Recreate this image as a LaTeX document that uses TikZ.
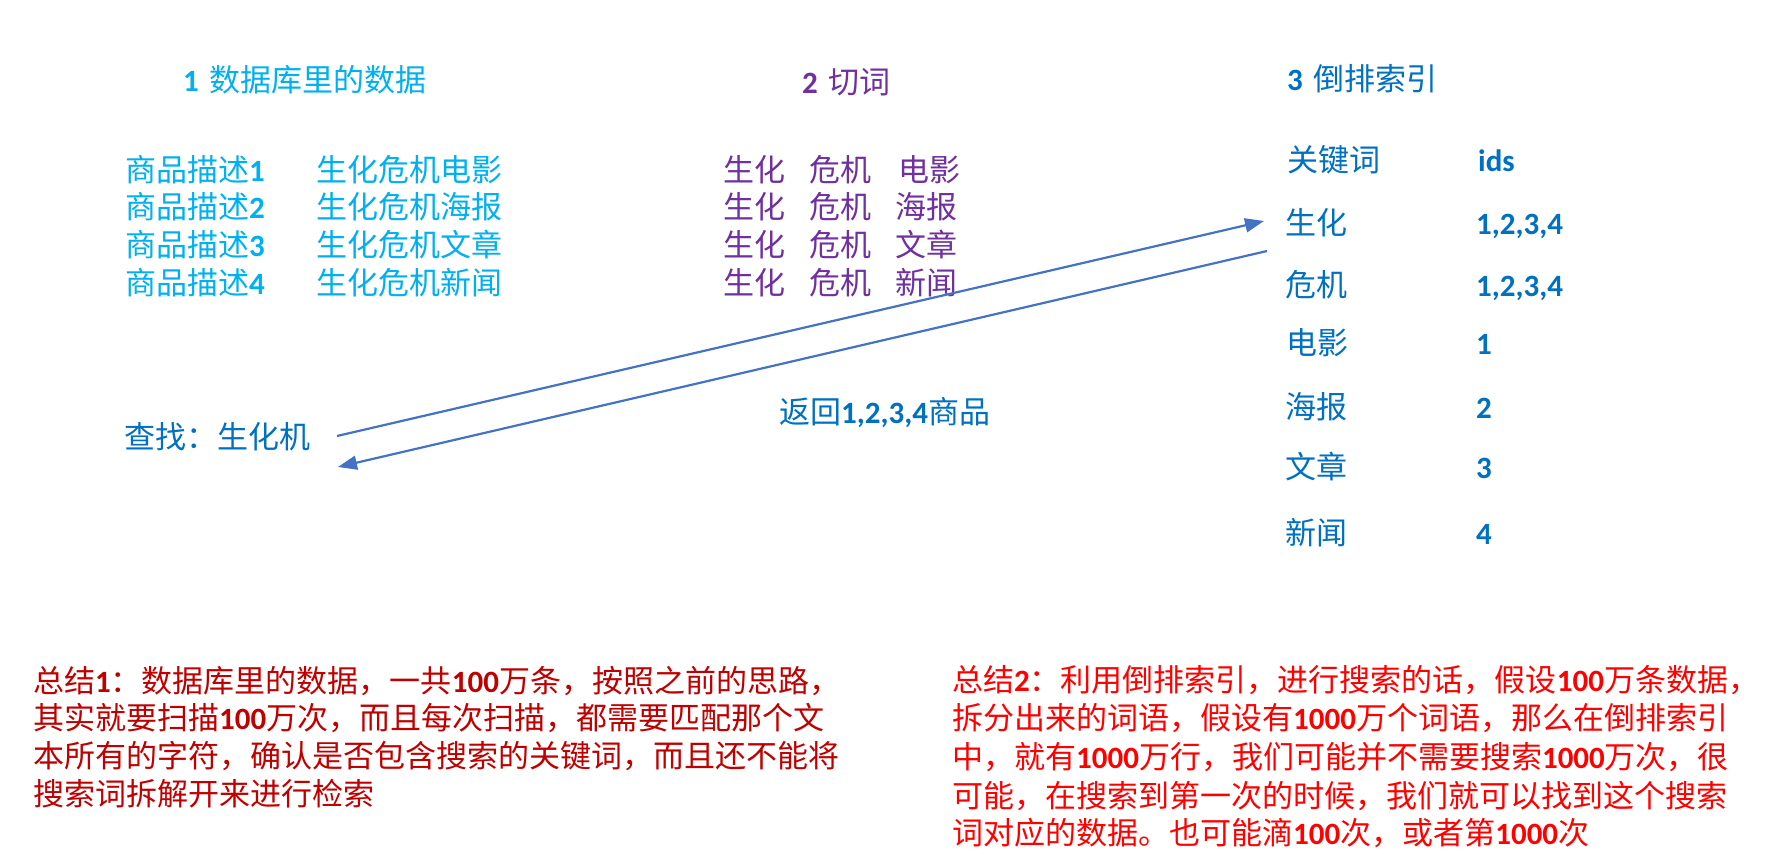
\documentclass[tikz,border=0pt]{standalone}
\usepackage{fontspec}
\newfontfamily\cjk{Noto Sans CJK SC}
\newfontfamily\latf{Carlito}
\newcommand\Lt[1]{{\latf\bfseries #1}}
\usetikzlibrary{arrows.meta}
\definecolor{cyanT}{HTML}{00B0F0}
\definecolor{purpT}{HTML}{7030A0}
\definecolor{blueT}{HTML}{0070C0}
\definecolor{dredT}{HTML}{C00000}
\definecolor{redT}{HTML}{FF0000}
\definecolor{arrC}{HTML}{4472C4}
\begin{document}
\begin{tikzpicture}[x=1pt,y=-1pt,
  every node/.style={inner sep=0pt, anchor=base west, font=\cjk\fontsize{31}{37}\selectfont},
  c1/.style={text=cyanT},
  c2/.style={text=purpT},
  c3/.style={text=blueT},
  s1/.style={text=dredT},
  s2/.style={text=redT},
  arr/.style={draw=arrC, line width=2.2pt, -{Triangle[length=19pt,width=14pt]}}]
\useasboundingbox[fill=white] (0,0) rectangle (1773,859);
% titles
\node[c1] (h1) at (183,92) {\Lt{1}\hspace{4pt} 数据库里的数据};
\node[c2] (h2) at (802,94) {\Lt{2}\hspace{4pt} 切词};
\node[c3] (h3) at (1287,91) {\Lt{3}\hspace{4pt} 倒排索引};
% left column
\node[c1] (l1a) at (125,181) {商品描述\Lt{1}};
\node[c1] (l2a) at (125,218) {商品描述\Lt{2}};
\node[c1] (l3a) at (125,256) {商品描述\Lt{3}};
\node[c1] (l4a) at (125,294) {商品描述\Lt{4}};
\node[c1] (l1b) at (316,181) {生化危机电影};
\node[c1] (l2b) at (316,218) {生化危机海报};
\node[c1] (l3b) at (316,256) {生化危机文章};
\node[c1] (l4b) at (316,294) {生化危机新闻};
% middle column
\node[c2] (m1a) at (723,181) {生化};
\node[c2] (m2a) at (723,218) {生化};
\node[c2] (m3a) at (723,256) {生化};
\node[c2] (m4a) at (723,294) {生化};
\node[c2] (m1b) at (809,181) {危机};
\node[c2] (m2b) at (809,218) {危机};
\node[c2] (m3b) at (809,256) {危机};
\node[c2] (m4b) at (809,294) {危机};
\node[c2] (m1c) at (898,181) {电影};
\node[c2] (m2c) at (895,218) {海报};
\node[c2] (m3c) at (895,256) {文章};
\node[c2] (m4c) at (895,294) {新闻};
% right column
\node[c3] (k0) at (1287,171) {关键词};
\node[c3] (v0) at (1478,171) {\Lt{ids}};
\node[c3] (k1) at (1285,234) {生化};
\node[c3] (v1) at (1476,234) {\Lt{1,2,3,4}};
\node[c3] (k2) at (1285,296) {危机};
\node[c3] (v2) at (1476,296) {\Lt{1,2,3,4}};
\node[c3] (k3) at (1286,354) {电影};
\node[c3] (v3) at (1476,354) {\Lt{1}};
\node[c3] (k4) at (1285,418) {海报};
\node[c3] (v4) at (1476,418) {\Lt{2}};
\node[c3] (k5) at (1285,478) {文章};
\node[c3] (v5) at (1476,478) {\Lt{3}};
\node[c3] (k6) at (1285,544) {新闻};
\node[c3] (v6) at (1476,544) {\Lt{4}};
% query and return
\node[c3] (q) at (124,448) {查找：生化机};
\node[c3] (r) at (779,423) {返回\Lt{1,2,3,4}商品};
\coordinate (a1s) at (337,436);
\coordinate (a1e) at (1264,221);
\coordinate (a2s) at (1267,251);
\coordinate (a2e) at (338,467);
\draw[arr] (a1s) -- (a1e);
\draw[arr] (a2s) -- (a2e);
% summary 1
\node[s1] (sa1) at (33,692) {总结\Lt{1}：数据库里的数据，一共\Lt{100}万条，按照之前的思路，};
\node[s1] (sa2) at (33,729) {其实就要扫描\Lt{100}万次，而且每次扫描，都需要匹配那个文};
\node[s1] (sa3) at (33,767) {本所有的字符，确认是否包含搜索的关键词，而且还不能将};
\node[s1] (sa4) at (33,805) {搜索词拆解开来进行检索};
% summary 2
\node[s2] (sb1) at (952,691) {总结\Lt{2}：利用倒排索引，进行搜索的话，假设\Lt{100}万条数据，};
\node[s2] (sb2) at (952,729) {拆分出来的词语，假设有\Lt{1000}万个词语，那么在倒排索引};
\node[s2] (sb3) at (952,768) {中，就有\Lt{1000}万行，我们可能并不需要搜索\Lt{1000}万次，很};
\node[s2] (sb4) at (952,807) {可能，在搜索到第一次的时候，我们就可以找到这个搜索};
\node[s2] (sb5) at (952,844) {词对应的数据。也可能滴\Lt{100}次，或者第\Lt{1000}次};
\end{tikzpicture}
\end{document}
